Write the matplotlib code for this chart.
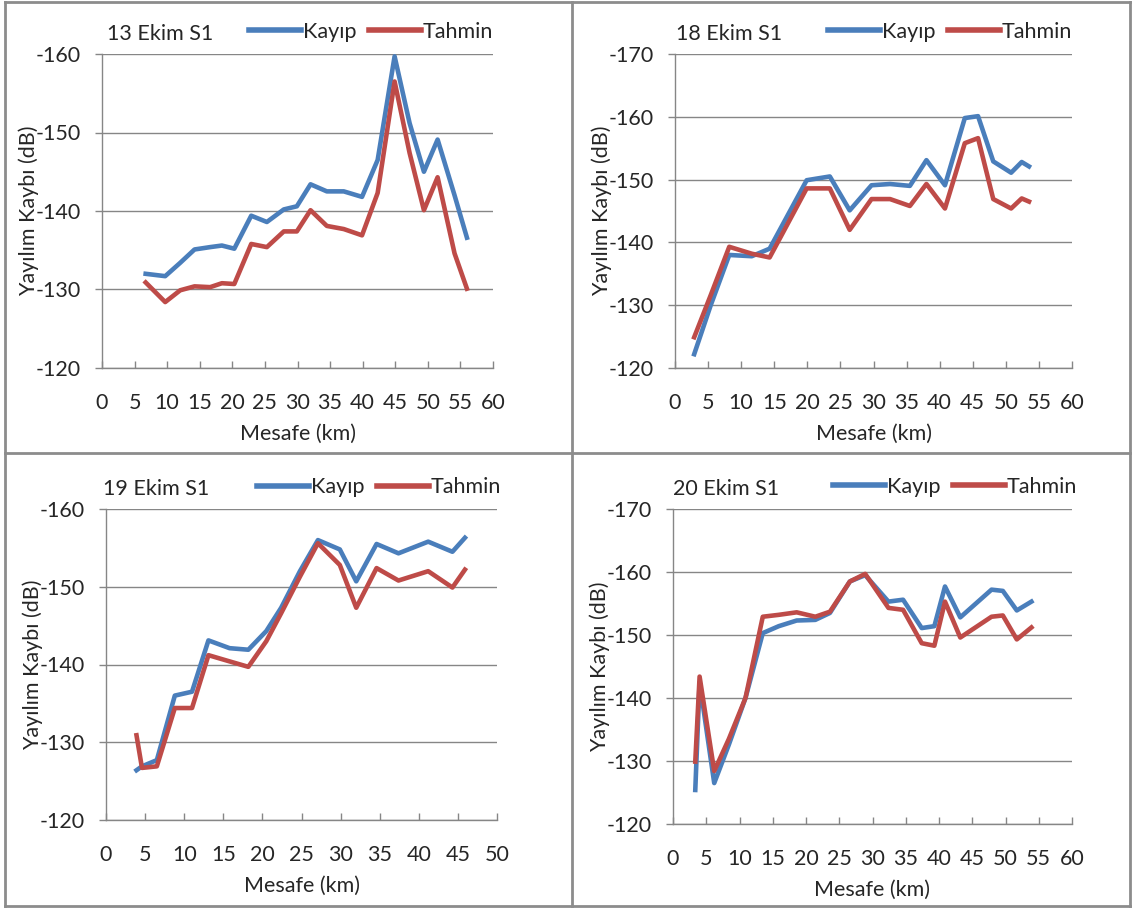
import matplotlib
matplotlib.use("Agg")
import matplotlib.pyplot as plt
from matplotlib.lines import Line2D

plt.rcParams['font.family'] = ['Lato', 'DejaVu Sans']
plt.rcParams['axes.unicode_minus'] = False

# --- 13 Ekim S1 ---
dist_13 = [6.7, 9.7, 12.0, 14.2, 16.6, 18.4, 20.3, 22.9, 25.3, 27.9, 29.9,
           32.0, 34.5, 37.1, 39.9, 42.3, 44.9, 47.2, 49.4, 51.5, 54.1, 56.0]
kayip_13 = [-132.0, -131.7, -133.4, -135.1, -135.4, -135.6, -135.2, -139.4, -138.6, -140.2, -140.6,
            -143.4, -142.5, -142.5, -141.8, -146.5, -159.7, -151.2, -145.0, -149.1, -142.0, -136.6]
tahmin_13 = [-130.9, -128.4, -129.9, -130.4, -130.3, -130.8, -130.7, -135.8, -135.4, -137.4, -137.4,
             -140.1, -138.1, -137.7, -136.9, -142.3, -156.5, -147.4, -140.1, -144.3, -134.6, -130.1]

# --- 18 Ekim S1 ---
dist_18 = [2.9, 5.4, 8.2, 11.6, 14.3, 19.9, 23.4, 26.4, 29.7, 32.5, 35.5,
           38.0, 40.8, 43.8, 45.8, 48.1, 50.8, 52.4, 53.5]
kayip_18 = [-122.2, -130.0, -138.0, -137.8, -139.0, -149.9, -150.5, -145.1, -149.1, -149.3, -149.0,
            -153.1, -149.1, -159.8, -160.1, -152.9, -151.1, -152.8, -152.1]
tahmin_18 = [-124.9, -131.6, -139.3, -138.2, -137.6, -148.6, -148.6, -142.0, -146.9, -146.9, -145.8,
             -149.3, -145.4, -155.8, -156.6, -146.9, -145.4, -147.0, -146.5]

# --- 19 Ekim S1 ---
dist_19 = [3.9, 4.6, 6.5, 8.8, 11.0, 13.1, 15.8, 18.2, 20.5, 22.4, 24.8,
           27.1, 29.9, 32.0, 34.6, 37.4, 41.2, 44.3, 45.9]
kayip_19 = [-126.4, -126.9, -127.7, -136.0, -136.5, -143.1, -142.1, -141.9, -144.3, -147.3, -152.0,
            -156.0, -154.8, -150.7, -155.5, -154.3, -155.8, -154.5, -156.3]
tahmin_19 = [-130.9, -126.7, -126.9, -134.4, -134.4, -141.2, -140.4, -139.7, -143.0, -146.6, -151.3,
             -155.6, -152.8, -147.3, -152.4, -150.8, -152.0, -149.9, -152.2]

# --- 20 Ekim S1 ---
dist_20 = [3.35, 4.0, 6.2, 8.4, 10.9, 13.5, 15.9, 18.6, 21.4, 23.6, 26.6, 28.9,
           32.4, 34.6, 37.4, 39.3, 40.9, 43.2, 47.9, 49.6, 51.7, 53.9]
kayip_20 = [-125.4, -142.5, -126.5, -132.6, -140.0, -150.3, -151.4, -152.3, -152.4, -153.5, -158.5, -159.5,
            -155.3, -155.6, -151.1, -151.4, -157.7, -152.8, -157.2, -157.0, -153.9, -155.3]
tahmin_20 = [-129.9, -143.4, -128.4, -133.5, -140.0, -152.9, -153.2, -153.6, -152.9, -153.7, -158.5, -159.7,
             -154.3, -154.0, -148.7, -148.3, -155.3, -149.6, -152.9, -153.1, -149.3, -151.2]

series_names = ["Kayıp", "Tahmin"]
BLUE = "#4a7ebb"
RED = "#be4b48"
GRID = "#868686"
TEXT = "#262626"
FS = 15.5

W, H = 1134, 911
fig = plt.figure(figsize=(W / 100, H / 100), dpi=100)
fig.patch.set_facecolor("white")


def px_axes(left, right, top, bottom):
    return fig.add_axes([left / W, 1 - bottom / H, (right - left) / W, (bottom - top) / H])


def panel(rect, dist, kayip, tahmin, title, xmax, ytop, title_px, legend_px):
    left, right, top, bottom = rect
    ax = px_axes(*rect)
    ax.plot(dist, kayip, color=BLUE, lw=3.3, solid_joinstyle="round", zorder=3)
    ax.plot(dist, tahmin, color=RED, lw=3.3, solid_joinstyle="round", zorder=4)
    ax.set_xlim(0, xmax)
    ax.set_ylim(-120, ytop)
    ax.set_xticks(range(0, xmax + 1, 5))
    ax.set_yticks(range(-120, ytop - 1, -10))
    ax.grid(axis="y", color=GRID, lw=1.0)
    ax.set_axisbelow(True)
    for s in ("top", "right"):
        ax.spines[s].set_visible(False)
    for s in ("left", "bottom"):
        ax.spines[s].set_color(GRID)
        ax.spines[s].set_linewidth(1.0)
    ax.tick_params(axis="x", direction="in", length=5, color=GRID, width=1.0,
                   labelsize=FS, labelcolor=TEXT, pad=18)
    ax.tick_params(axis="y", direction="out", length=5, color=GRID, width=1.0,
                   labelsize=FS, labelcolor=TEXT, pad=10)
    ax.set_xlabel("Mesafe (km)", fontsize=FS, color=TEXT, labelpad=8)
    ax.set_ylabel("Yayılım Kaybı (dB)", fontsize=FS, color=TEXT, labelpad=-2)
    width = right - left
    ax.text((title_px - left) / width, 1.065, title, transform=ax.transAxes,
            fontsize=FS, color=TEXT, ha="left", va="center")
    handles = [Line2D([], [], color=BLUE, lw=4), Line2D([], [], color=RED, lw=4)]
    ax.legend(handles, series_names, ncol=2, loc="center left",
              bbox_to_anchor=((legend_px - left) / width, 1.07), frameon=False, fontsize=FS,
              handlelength=2.4, handletextpad=0.1, columnspacing=0.6,
              borderaxespad=0, borderpad=0, labelcolor=TEXT)
    return ax


panel((102, 493, 54, 368), dist_13, kayip_13, tahmin_13, "13 Ekim S1", 60, -160, 107, 249)
panel((675, 1072, 54, 368), dist_18, kayip_18, tahmin_18, "18 Ekim S1", 60, -170, 676, 828)
panel((106, 497, 509, 820), dist_19, kayip_19, tahmin_19, "19 Ekim S1", 50, -160, 103, 257)
panel((673, 1072, 509, 824), dist_20, kayip_20, tahmin_20, "20 Ekim S1", 60, -170, 673, 833)

# Panel frames
frame = dict(color="#8c8c8c", lw=2.0, transform=fig.transFigure)
x0, x1, y0, y1, xm, ym = 5 / W, 1130 / W, 1 - 2 / H, 1 - 906 / H, 572 / W, 1 - 453 / H
for xs, ys in [((x0, x1), (y0, y0)), ((x0, x1), (y1, y1)), ((x0, x0), (y0, y1)),
               ((x1, x1), (y0, y1)), ((xm, xm), (y0, y1)), ((x0, x1), (ym, ym))]:
    fig.add_artist(Line2D(xs, ys, **frame))

fig.savefig("out.png", dpi=100, facecolor="white")
